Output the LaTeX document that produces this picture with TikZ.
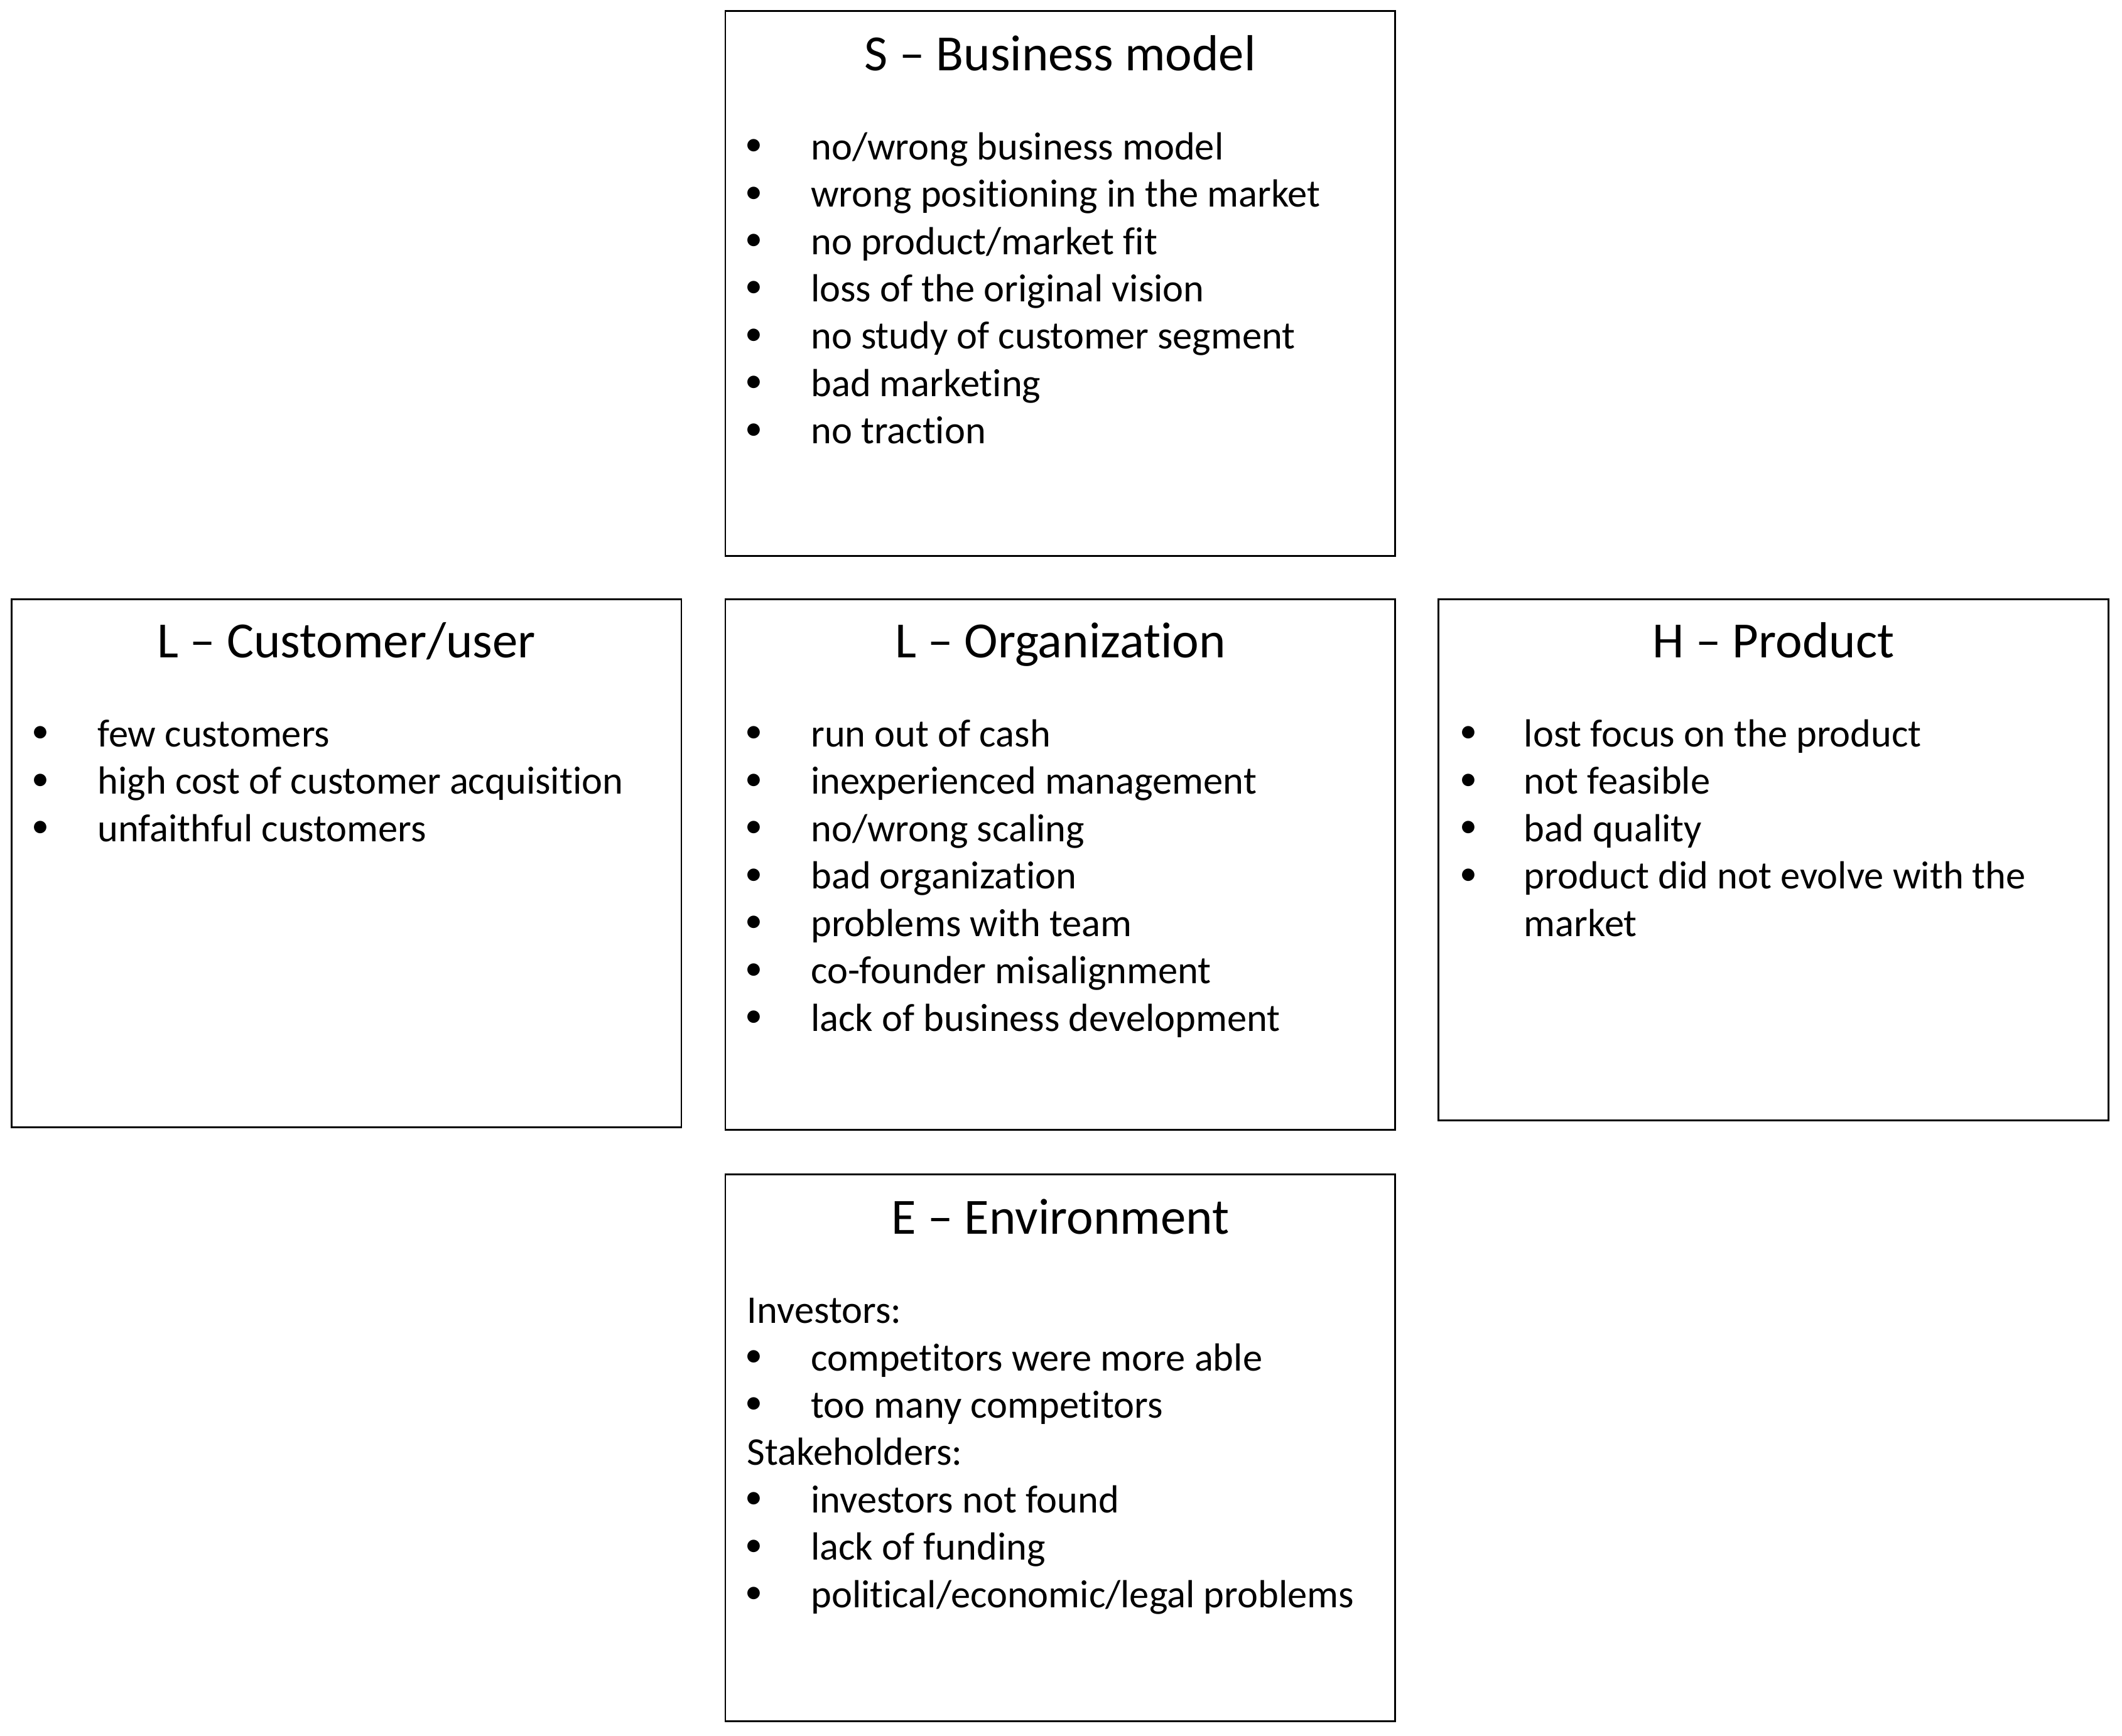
\documentclass[tikz,border=0pt]{standalone}
\usepackage{fontspec}
\setmainfont[Ligatures={NoCommon}]{Carlito}
\begin{document}
\begin{tikzpicture}[x=1pt,y=-1pt,
  box/.style={draw, line width=1.3pt, inner sep=0pt, minimum width=495pt},
  ttl/.style={font=\fontsize{37.5}{40}\selectfont, inner sep=0pt, anchor=base},
  item/.style={font=\fontsize{29}{33}\selectfont, inner sep=0pt, anchor=base west},
  bul/.style={font=\fontsize{26}{30}\selectfont, inner sep=0pt}]
\useasboundingbox (0,0) rectangle (1568,1283);
% boxes
\node[box, minimum height=403pt] (S) at (783.5,209.5) {};
\node[box, minimum height=390pt] (C) at (256,638) {};
\node[box, minimum height=392pt] (O) at (783.5,639) {};
\node[box, minimum height=385pt] (P) at (1310.5,635.5) {};
\node[box, minimum height=404pt] (E) at (783.5,1070) {};
% titles
\node[ttl] (St) at (783.5,52) {S – Business model};
\node[ttl] (Ct) at (256,486) {L – Customer/user};
\node[ttl] (Ot) at (783.5,486) {L – Organization};
\node[ttl] (Pt) at (1310.5,486) {H – Product};
\node[ttl] (Et) at (783.5,912) {E – Environment};
% S items
\foreach \t [count=\i] in {no/wrong business model, wrong positioning in the market, no product/market fit, loss of the original vision, no study of customer segment, bad marketing, no traction}{
  \node[bul] (Sb\i) at (557,{109+35*(\i-1)}) {•};
  \node[item] (Si\i) at (599,{118+35*(\i-1)}) {\t};
}
% C items
\foreach \t [count=\i] in {few customers, high cost of customer acquisition, unfaithful customers}{
  \node[bul] (Cb\i) at (30,{543+35*(\i-1)}) {•};
  \node[item] (Ci\i) at (72,{552+35*(\i-1)}) {\t};
}
% O items
\foreach \t [count=\i] in {run out of cash, inexperienced management, no/wrong scaling, bad organization, problems with team, co-founder misalignment, lack of business development}{
  \node[bul] (Ob\i) at (557,{543+35*(\i-1)}) {•};
  \node[item] (Oi\i) at (599,{552+35*(\i-1)}) {\t};
}
% P items
\foreach \t [count=\i] in {lost focus on the product, not feasible, bad quality, product did not evolve with the}{
  \node[bul] (Pb\i) at (1085,{543+35*(\i-1)}) {•};
  \node[item] (Pi\i) at (1126,{552+35*(\i-1)}) {\t};
}
\node[item] (Pi5) at (1126,692) {market};
% E items
\node[item] (Eh1) at (552,978) {Investors:};
\node[bul] (Eb1) at (557,1004) {•};
\node[item] (Ei1) at (599,1013) {competitors were more able};
\node[bul] (Eb2) at (557,1039) {•};
\node[item] (Ei2) at (599,1048) {too many competitors};
\node[item] (Eh2) at (552,1083) {Stakeholders:};
\node[bul] (Eb3) at (557,1109) {•};
\node[item] (Ei3) at (599,1118) {investors not found};
\node[bul] (Eb4) at (557,1144) {•};
\node[item] (Ei4) at (599,1153) {lack of funding};
\node[bul] (Eb5) at (557,1179) {•};
\node[item] (Ei5) at (599,1188) {political/economic/legal problems};
\end{tikzpicture}
\end{document}
